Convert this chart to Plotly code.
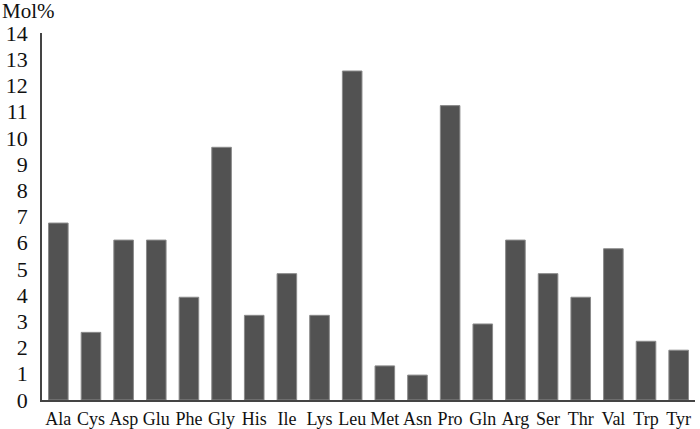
import plotly.graph_objects as go

categories = ["Ala", "Cys", "Asp", "Glu", "Phe", "Gly", "His", "Ile", "Lys", "Leu",
              "Met", "Asn", "Pro", "Gln", "Arg", "Ser", "Thr", "Val", "Trp", "Tyr"]
mol_pct = [6.75, 2.58, 6.1, 6.1, 3.92, 9.64, 3.23, 4.82, 3.23, 12.55,
           1.3, 0.95, 11.23, 2.9, 6.1, 4.82, 3.92, 5.77, 2.24, 1.9]
y_ticks = list(range(0, 15))

font_family = "Liberation Serif, Times New Roman, serif"

fig = go.Figure(go.Bar(
    x=categories, y=mol_pct,
    marker=dict(color="#525252", line=dict(color="#8a8a8a", width=1)),
    width=0.6,
))

fig.update_layout(
    width=700, height=429,
    margin=dict(l=42, r=5, t=33, b=29),
    paper_bgcolor="white", plot_bgcolor="white",
    showlegend=False,
    font=dict(family=font_family, color="#111111"),
    bargap=0.4,
)
fig.update_xaxes(
    showline=True, linecolor="#444444", linewidth=1.5,
    showgrid=False, ticks="", tickfont=dict(size=18, family=font_family),
    tickangle=0, automargin=False,
    ticklabelstandoff=2,
)
fig.update_yaxes(
    range=[0, 14], tickvals=y_ticks, showline=True, linecolor="#444444", linewidth=1.5,
    showgrid=False, zeroline=False, ticks="", tickfont=dict(size=22, family=font_family),
    ticklabelstandoff=8, automargin=False,
)
fig.add_annotation(
    text="Mol%", xref="paper", yref="paper", x=-42/653, y=1 + 22/367,
    xanchor="left", yanchor="middle", showarrow=False,
    font=dict(size=21, family=font_family, color="#111111"),
)
fig.write_html(
    "out.html",
    config={"displayModeBar": False},
    post_script="document.body.style.margin='0';document.body.style.overflow='hidden';",
)
